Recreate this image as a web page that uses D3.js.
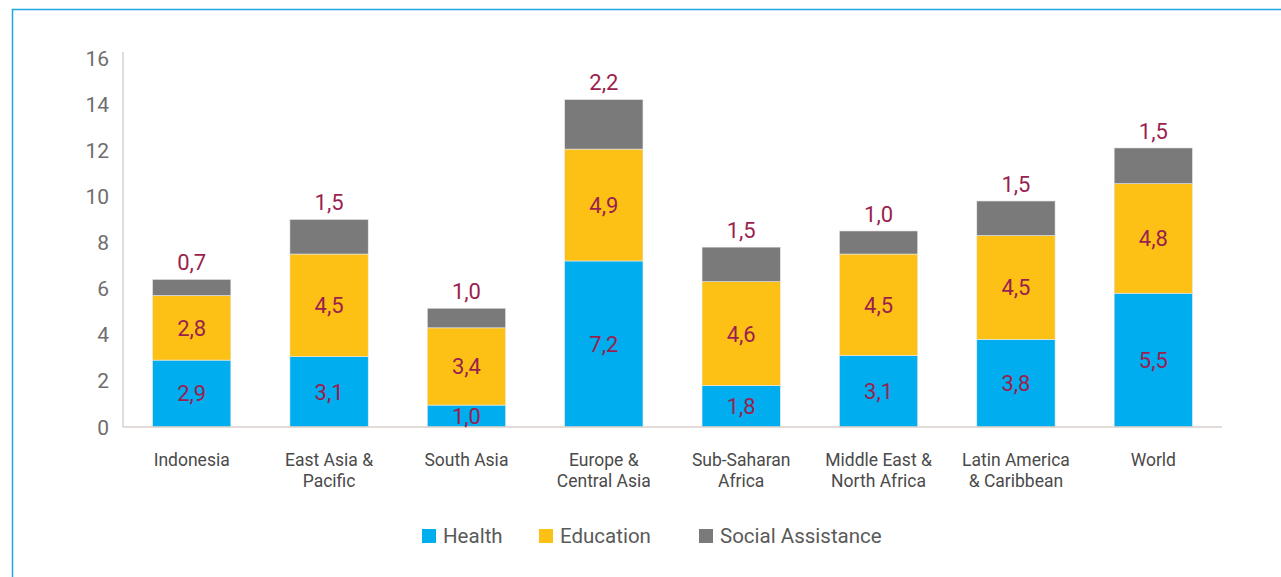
<!DOCTYPE html>
<html>
<head>
<meta charset="utf-8">
<script src="https://cdn.jsdelivr.net/npm/d3@7"></script>
<style>
  body { margin: 0; background: #fff; }
  svg { display: block; font-family: Roboto, "Liberation Sans", sans-serif; }
  .tick-label { fill: #6e6e6e; font-size: 21px; }
  .cat-label { fill: #4a4a4a; font-size: 17.5px; }
  .val-label { fill: #9a1f4e; font-size: 22px; }
  .legend-label { fill: #5a5a5a; font-size: 20.5px; }
</style>
</head>
<body>
<div id="chart"></div>
<script>
// categories and series (bar heights)
let categories = [
  ["Indonesia"],
  ["East Asia &", "Pacific"],
  ["South Asia"],
  ["Europe &", "Central Asia"],
  ["Sub-Saharan", "Africa"],
  ["Middle East &", "North Africa"],
  ["Latin America", "& Caribbean"],
  ["World"]
]
let health    = [2.9, 3.05, 0.95, 7.2, 1.8, 3.1, 3.8, 5.8]
let education = [2.8, 4.45, 3.35, 4.85, 4.5, 4.4, 4.5, 4.75]
let social    = [0.7, 1.5, 0.85, 2.15, 1.5, 1.0, 1.5, 1.55]
// the labels as printed on the chart
let healthPrinted    = ["2,9", "3,1", "1,0", "7,2", "1,8", "3,1", "3,8", "5,5"]
let educationPrinted = ["2,8", "4,5", "3,4", "4,9", "4,6", "4,5", "4,5", "4,8"]
let socialPrinted    = ["0,7", "1,5", "1,0", "2,2", "1,5", "1,0", "1,5", "1,5"]
let yTicks = [0, 2, 4, 6, 8, 10, 12, 14, 16]
let seriesNames = ["Health", "Education", "Social Assistance"]

let colors = { "Health": "#00adee", "Education": "#fdc116", "Social Assistance": "#7a7a7a" }
let printed = { "Health": healthPrinted, "Education": educationPrinted, "Social Assistance": socialPrinted }

let width = 1281
let height = 577
let marginLeft = 123
let marginRight = 59
let axisBottom = 427
let axisTop = 58

let svg = d3.select("#chart").append("svg")
  .attr("width", width)
  .attr("height", height)

// outer frame (only left and top edges visible)
svg.append("path")
  .attr("d", "M12.5," + height + "V9.5H" + width)
  .attr("fill", "none")
  .attr("stroke", "#1ea7e1")
  .attr("stroke-width", 1.5)

let x = d3.scaleBand()
  .domain(d3.range(categories.length))
  .range([marginLeft, width - marginRight])
  .paddingInner(0.43)
  .paddingOuter(0.215)

let y = d3.scaleLinear()
  .domain([0, 16])
  .range([axisBottom, axisTop])

let rows = categories.map((c, i) => ({
  i: i,
  Health: health[i],
  Education: education[i],
  "Social Assistance": social[i]
}))

let stacked = d3.stack().keys(seriesNames)(rows)

// y axis line and tick labels
svg.append("line")
  .attr("x1", marginLeft).attr("x2", marginLeft)
  .attr("y1", y(16) - 6).attr("y2", axisBottom)
  .attr("stroke", "#d8cfca").attr("stroke-width", 1.5)

svg.append("g")
  .selectAll("text")
  .data(yTicks)
  .join("text")
  .attr("class", "tick-label")
  .attr("x", marginLeft - 14)
  .attr("y", d => y(d))
  .attr("dy", "0.36em")
  .attr("text-anchor", "end")
  .text(d => d)

// bars
let layers = svg.append("g")
  .selectAll("g")
  .data(stacked)
  .join("g")
  .attr("fill", d => colors[d.key])

layers.selectAll("rect")
  .data(d => d)
  .join("rect")
  .attr("x", d => x(d.data.i))
  .attr("width", x.bandwidth())
  .attr("y", d => y(d[1]))
  .attr("height", d => y(d[0]) - y(d[1]))
  .attr("stroke", "#e9e9e9")
  .attr("stroke-width", 0.6)

svg.append("line")
  .attr("x1", marginLeft).attr("x2", width - marginRight)
  .attr("y1", axisBottom).attr("y2", axisBottom)
  .attr("stroke", "#d8cfca").attr("stroke-width", 1.5)

// value labels
stacked.forEach(layer => {
  svg.append("g")
    .selectAll("text")
    .data(layer)
    .join("text")
    .attr("class", "val-label")
    .attr("text-anchor", "middle")
    .attr("x", d => x(d.data.i) + x.bandwidth() / 2)
    .attr("y", d => layer.key === "Social Assistance" ? y(d[1]) - 17 : (y(d[0]) + y(d[1])) / 2)
    .attr("dy", "0.36em")
    .text(d => printed[layer.key][d.data.i])
})

// category labels
let cats = svg.append("g")
  .selectAll("text")
  .data(categories)
  .join("text")
  .attr("class", "cat-label")
  .attr("text-anchor", "middle")
  .attr("x", (d, i) => x(i) + x.bandwidth() / 2)
  .attr("y", 466)

cats.selectAll("tspan")
  .data(d => d)
  .join("tspan")
  .attr("x", function() { return d3.select(this.parentNode).attr("x") })
  .attr("dy", (d, i) => i === 0 ? 0 : 21)
  .text(d => d)

// legend
let legendX = [422, 539, 699]
let legend = svg.append("g")
  .selectAll("g")
  .data(seriesNames)
  .join("g")
  .attr("transform", (d, i) => "translate(" + legendX[i] + ",529)")

legend.append("rect")
  .attr("width", 14)
  .attr("height", 14)
  .attr("fill", d => colors[d])

legend.append("text")
  .attr("class", "legend-label")
  .attr("x", 21)
  .attr("y", 7)
  .attr("dy", "0.36em")
  .text(d => d)
</script>
</body>
</html>
